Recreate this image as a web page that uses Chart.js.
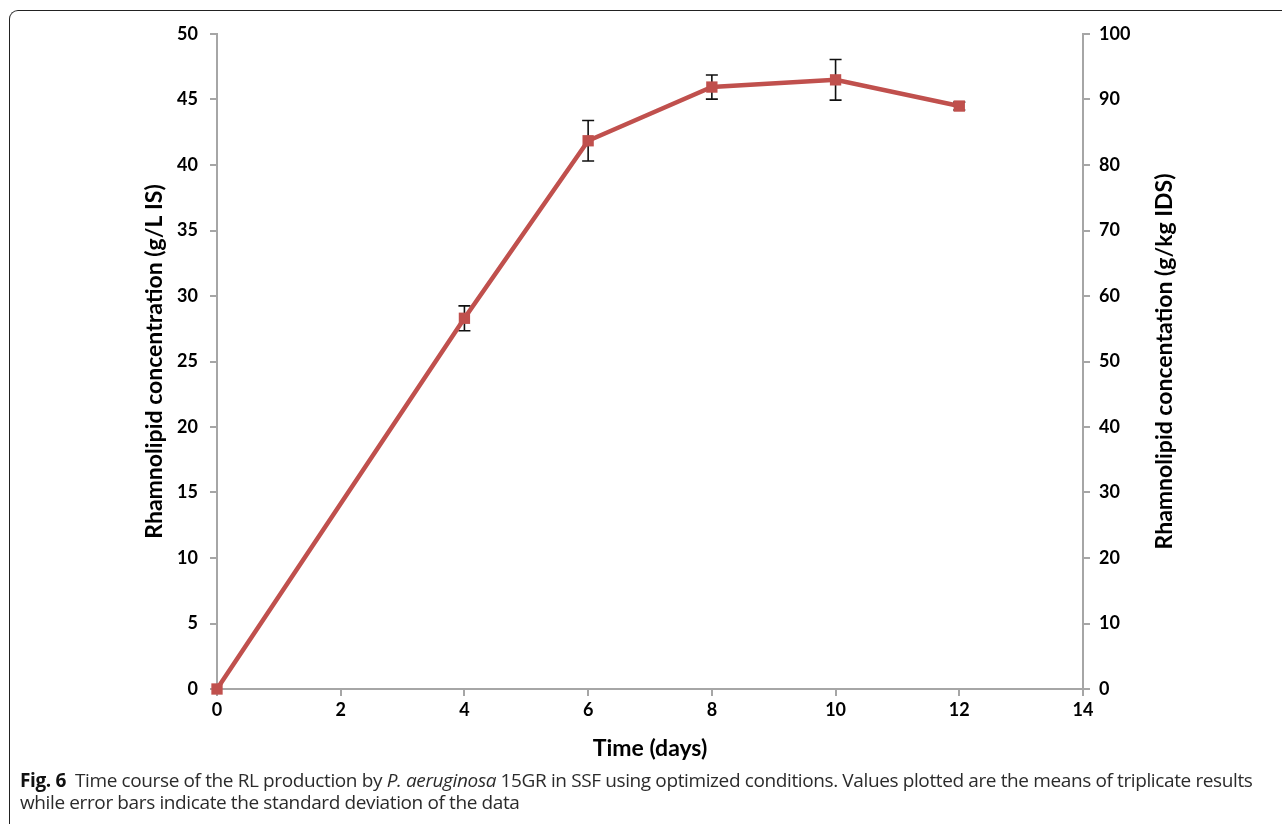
<!DOCTYPE html>
<html>
<head>
<meta charset="utf-8">
<script src="https://cdn.jsdelivr.net/npm/chart.js@4.4.0/dist/chart.umd.min.js"></script>
<style>
  html, body { margin:0; padding:0; background:#fff; }
  #wrap { position:relative; width:1282px; height:824px; overflow:hidden; }
  #frame { position:absolute; left:9px; top:10px; width:1300px; height:900px;
           border-top:1.5px solid #222; border-left:1.5px solid #222; border-top-left-radius:9px; }
  #c { position:absolute; left:0; top:0; }
  #cap { position:absolute; left:20px; top:769px; width:1258px; font-family:"Open Sans", sans-serif;
         font-size:19px; line-height:22px; color:#2b2b2b; letter-spacing:-0.38px; }
  #cap b { font-weight:700; color:#111; }
</style>
</head>
<body>
<div id="wrap">
  <div id="frame"></div>
  <canvas id="c" width="1282" height="768"></canvas>
  <div id="cap"><b>Fig. 6</b>&nbsp; Time course of the RL production by <i>P. aeruginosa</i> 15GR in SSF using optimized conditions. Values plotted are the means of triplicate results while error bars indicate the standard deviation of the data</div>
</div>
<script>
const days = [0, 4, 6, 8, 10, 12];
const rlConc = [0, 28.3, 41.85, 45.95, 46.5, 44.5];
const rlSD = [0, 0.95, 1.55, 0.92, 1.55, 0.3];
const xTitle = "Time (days)";
const yLeftTitle = "Rhamnolipid concentration (g/L IS)";
const yRightTitle = "Rhamnolipid concentation (g/kg IDS)";

const axisColor = '#a6a6a6';
const tickFont = { family: 'Lato', size: 18, weight: 'bold' };
const titleFont = { family: 'Lato', size: 23, weight: 'bold' };

const errorBars = {
  id: 'errorBars',
  beforeDatasetsDraw(chart) {
    const ctx = chart.ctx, xs = chart.scales.x, ys = chart.scales.y;
    ctx.save();
    ctx.strokeStyle = '#111';
    ctx.lineWidth = 1.6;
    days.forEach((d, i) => {
      if (!rlSD[i]) return;
      const px = xs.getPixelForValue(d);
      const top = ys.getPixelForValue(rlConc[i] + rlSD[i]);
      const bot = ys.getPixelForValue(rlConc[i] - rlSD[i]);
      ctx.beginPath();
      ctx.moveTo(px, top); ctx.lineTo(px, bot);
      ctx.moveTo(px - 6, top); ctx.lineTo(px + 6, top);
      ctx.moveTo(px - 6, bot); ctx.lineTo(px + 6, bot);
      ctx.stroke();
    });
    ctx.restore();
  }
};

const rightTitle = {
  id: 'rightTitle',
  afterDraw(chart) {
    const ctx = chart.ctx, a = chart.chartArea;
    ctx.save();
    ctx.translate(1165, (a.top + a.bottom) / 2);
    ctx.rotate(-Math.PI / 2);
    ctx.font = 'bold 23px Lato';
    ctx.fillStyle = '#000';
    ctx.textAlign = 'center';
    ctx.textBaseline = 'middle';
    ctx.fillText(yRightTitle, 0, 0);
    ctx.restore();
  }
};

new Chart(document.getElementById('c'), {
  type: 'line',
  data: {
    datasets: [{
      data: days.map((d, i) => ({ x: d, y: rlConc[i] })),
      borderColor: '#c0504d',
      backgroundColor: '#c0504d',
      borderWidth: 4.5,
      pointStyle: 'rect',
      pointRadius: 8,
      pointHoverRadius: 8,
      pointBorderWidth: 0,
      tension: 0,
      clip: false,
      yAxisID: 'y'
    }]
  },
  options: {
    responsive: false,
    animation: false,
    events: [],
    layout: { padding: { top: 34, left: 0, right: 0, bottom: 0 } },
    plugins: { legend: { display: false }, tooltip: { enabled: false } },
    scales: {
      x: {
        type: 'linear', min: 0, max: 14,
        ticks: { stepSize: 2, color: '#000', font: tickFont, padding: 3 },
        grid: { drawOnChartArea: false, drawTicks: true, tickLength: 7, color: axisColor, lineWidth: 2 },
        border: { color: axisColor, width: 2 },
        title: { display: true, text: xTitle, color: '#000', font: titleFont, padding: { top: 0, bottom: 6 } },
        afterFit(s) { s.height = 79; }
      },
      y: {
        position: 'left', min: 0, max: 50,
        ticks: { stepSize: 5, color: '#000', font: tickFont, padding: 12 },
        grid: { drawOnChartArea: false, drawTicks: true, tickLength: 7, color: axisColor, lineWidth: 2 },
        border: { color: axisColor, width: 2 },
        title: { display: true, text: yLeftTitle, color: '#000', font: titleFont, padding: { top: 141, bottom: 0 } },
        afterFit(s) { s.width = 217; }
      },
      y2: {
        position: 'right', min: 0, max: 100,
        ticks: { stepSize: 10, color: '#000', font: tickFont, padding: 9 },
        grid: { drawOnChartArea: false, drawTicks: true, tickLength: 7, color: axisColor, lineWidth: 2 },
        border: { color: axisColor, width: 2 },
        afterFit(s) { s.width = 199; }
      }
    }
  },
  plugins: [errorBars, rightTitle]
});
</script>
</body>
</html>
